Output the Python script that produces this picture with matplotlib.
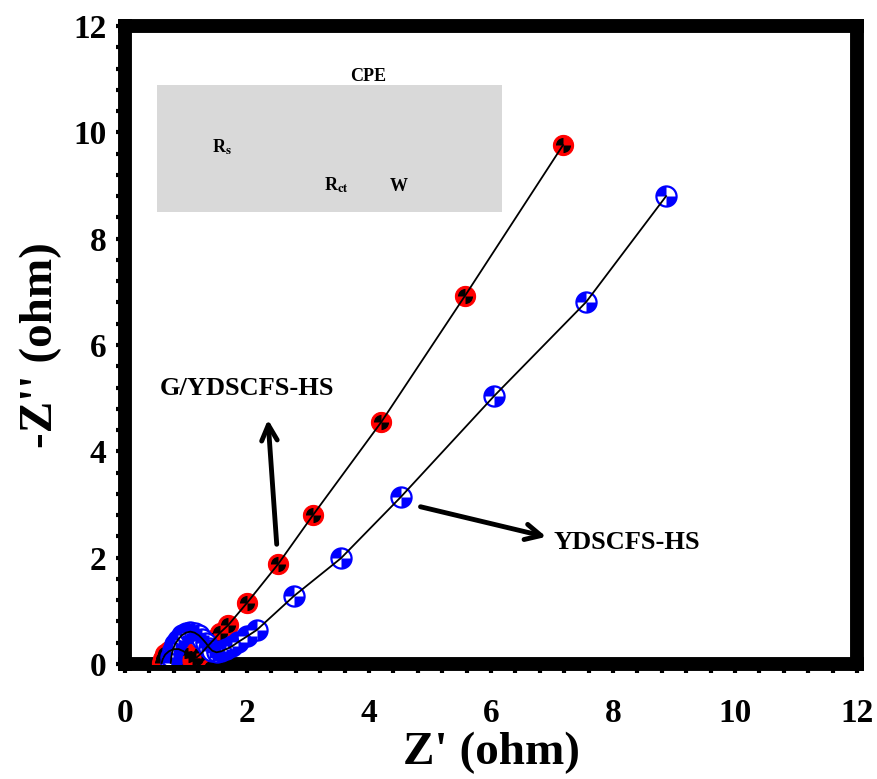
import numpy as np
import matplotlib
matplotlib.use("Agg")
import matplotlib.pyplot as plt
from matplotlib.path import Path
from matplotlib.patches import Rectangle

plt.rcParams['font.family'] = ['Liberation Serif', 'DejaVu Serif']
plt.rcParams['font.weight'] = 'bold'
plt.rcParams['mathtext.fontset'] = 'stix'

# Nyquist data, Z' and -Z'' in ohm
g_x = [0.60, 0.62, 0.66, 0.72, 0.80, 0.88, 0.96, 1.03, 1.10, 1.17, 1.25,
       1.35, 1.45, 1.55, 1.69, 2.00, 2.51, 3.08, 4.20, 5.57, 7.18]
g_y = [0.02, 0.10, 0.18, 0.24, 0.28, 0.28, 0.24, 0.17, 0.12, 0.12, 0.20,
       0.33, 0.45, 0.58, 0.73, 1.15, 1.88, 2.80, 4.55, 6.92, 9.76]

y_x = [0.75, 0.76, 0.78, 0.82, 0.87, 0.93, 1.00, 1.07, 1.14, 1.21, 1.27,
       1.33, 1.38, 1.43, 1.50, 1.58, 1.66, 1.75, 1.85, 2.00, 2.16, 2.77,
       3.54, 4.52, 6.05, 7.56, 8.87]
y_y = [0.02, 0.14, 0.26, 0.37, 0.46, 0.54, 0.59, 0.61, 0.59, 0.54, 0.47,
       0.39, 0.31, 0.25, 0.22, 0.24, 0.28, 0.33, 0.41, 0.52, 0.64, 1.28,
       1.99, 3.14, 5.04, 6.81, 8.80]

# quadrant markers (same radius as the circle marker)
q_tl = Path.wedge(90, 180)
q_br = Path.wedge(270, 360)

fig = plt.figure(figsize=(8.78, 7.79), dpi=100)
ax = fig.add_axes([0.1424, 0.1476, 0.8337, 0.819])

ms = 14.5
# fitted curves
ax.plot(g_x, g_y, '-', color='k', lw=1.3, zorder=4)
ax.plot(y_x, y_y, '-', color='k', lw=1.3, zorder=4)

# G/YDSCFS-HS : red circle, black quadrants
ax.plot(g_x, g_y, 'o', ms=ms, mfc='red', mec='red', mew=0.8, ls='none', zorder=3)
ax.plot(g_x, g_y, marker=q_tl, ms=ms * 0.75, mfc='k', mec='none', ls='none', zorder=3)
ax.plot(g_x, g_y, marker=q_br, ms=ms * 0.75, mfc='k', mec='none', ls='none', zorder=3)

# YDSCFS-HS : blue/white quartered circle
ax.plot(y_x, y_y, 'o', ms=ms, mfc='white', mec='blue', mew=1.6, ls='none', zorder=3)
ax.plot(y_x, y_y, marker=q_tl, ms=ms, mfc='blue', mec='none', ls='none', zorder=3)
ax.plot(y_x, y_y, marker=q_br, ms=ms, mfc='blue', mec='none', ls='none', zorder=3)

ax.set_xlim(0, 12)
ax.set_ylim(0, 12)
ax.set_xticks(np.arange(0, 13, 2))
ax.set_yticks(np.arange(0, 13, 2))
ax.set_xticks(np.arange(0, 12.01, 0.4), minor=True)
ax.set_yticks(np.arange(0, 12.01, 0.4), minor=True)
ax.tick_params(which='both', direction='out', length=6.5, width=3,
               top=False, right=False, labelsize=24)
ax.tick_params(axis='x', pad=18)
ax.tick_params(axis='y', pad=7)
for lab in ax.get_xticklabels() + ax.get_yticklabels():
    lab.set_fontweight('bold')

for sp in ax.spines.values():
    sp.set_linewidth(10)
    sp.set_capstyle('projecting')

ax.set_xlabel("Z' (ohm)", fontsize=34, fontweight='bold', labelpad=2)
ax.set_ylabel("-Z'' (ohm)", fontsize=34, fontweight='bold', labelpad=8)

# equivalent circuit box
ax.add_patch(Rectangle((0.52, 8.50), 5.66, 2.39, facecolor='#d9d9d9',
                       edgecolor='none', zorder=1))
ax.text(3.98, 11.05, 'CPE', fontsize=13, fontweight='bold', ha='center', va='center')
ax.text(1.59, 9.72, r'R$_\mathbf{s}$', fontsize=13, fontweight='bold', ha='center', va='center')
ax.text(3.46, 9.00, r'R$_\mathbf{ct}$', fontsize=13, fontweight='bold', ha='center', va='center')
ax.text(4.48, 8.98, 'W', fontsize=13, fontweight='bold', ha='center', va='center')

# sample labels
ax.text(2.0, 5.19, 'G/YDSCFS-HS', fontsize=19, fontweight='bold', ha='center', va='center')
ax.annotate('', xy=(2.34, 4.65), xytext=(2.49, 2.20),
            arrowprops=dict(arrowstyle='->', lw=3.5, color='k', mutation_scale=28))
ax.text(7.02, 2.28, 'YDSCFS-HS', fontsize=19, fontweight='bold', ha='left', va='center')
ax.annotate('', xy=(6.95, 2.38), xytext=(4.80, 2.97),
            arrowprops=dict(arrowstyle='->', lw=3.5, color='k', mutation_scale=28))

fig.savefig('out.png', dpi=100)
